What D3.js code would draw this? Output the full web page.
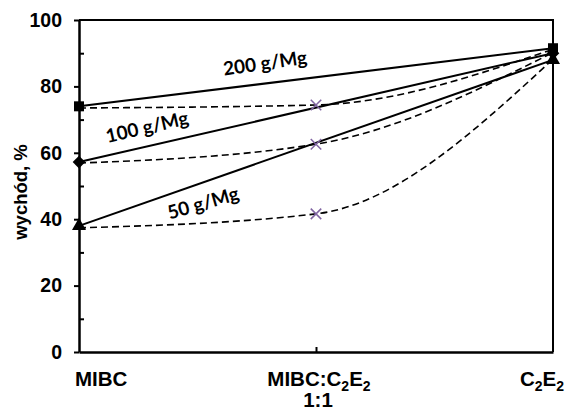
<!DOCTYPE html>
<html>
<head>
<meta charset="utf-8">
<script src="https://cdn.jsdelivr.net/npm/d3@7"></script>
<style>
  body { margin: 0; background: #fff; }
  svg { display: block; font-family: "Liberation Sans", Arial, sans-serif; }
</style>
</head>
<body>
<svg id="chart"></svg>
<script>
const width = 565;
const height = 410;

// data
const categories = ["MIBC", "MIBC:C2E2 1:1", "C2E2"];
const doseLabels = ["200 g/Mg", "100 g/Mg", "50 g/Mg"];
const doseShapes = ["square", "diamond", "triangle"];
// solid lines: MIBC -> C2E2
const solidMIBC = [74, 57.2, 38];
const solidC2E2 = [91.5, 90, 88];
// dashed lines: MIBC, mixture 1:1, C2E2
const dashed200 = [73.5, 74.4, 91.2];
const dashed100 = [56.9, 62.6, 90.2];
const dashed50 = [37.4, 41.6, 88.2];
const yTicks = [0, 20, 40, 60, 80, 100];
const yMinorTicks = [10, 30, 50, 70, 90];

const margin = { top: 20, right: 12, bottom: 58, left: 79 };

const svg = d3.select("#chart")
    .attr("width", width)
    .attr("height", height);

const x = d3.scalePoint()
    .domain(categories)
    .range([margin.left, width - margin.right]);

const y = d3.scaleLinear()
    .domain([0, 100])
    .range([height - margin.bottom, margin.top]);

// frame (top + right)
svg.append("path")
    .attr("d", `M${x.range()[0]},${y(100)}H${x.range()[1]}V${y(0)}`)
    .attr("fill", "none")
    .attr("stroke", "#000")
    .attr("stroke-width", 2);

// y axis, major ticks outside, minor inside
const yAxis = svg.append("g")
    .attr("transform", `translate(${margin.left},0)`)
    .call(d3.axisLeft(y).tickValues(yTicks).tickSize(5).tickSizeOuter(0).tickPadding(12));
yAxis.selectAll("text")
    .attr("font-size", 19.5)
    .attr("font-weight", "bold")
    .attr("font-family", "'Liberation Sans', Arial, sans-serif")
    .attr("fill", "#000");

svg.append("g")
    .attr("transform", `translate(${margin.left},0)`)
    .call(d3.axisLeft(y).tickValues(yMinorTicks).tickSize(-5).tickSizeOuter(0).tickFormat(""))
    .select(".domain").remove();

yAxis.select(".domain").attr("stroke-width", 2.5);
svg.selectAll(".tick line").attr("stroke-width", 2);

// x axis
const xAxis = svg.append("g")
    .attr("transform", `translate(0,${y(0)})`)
    .call(d3.axisBottom(x).tickValues([categories[1]]).tickSize(-5).tickSizeOuter(0).tickFormat(""));
xAxis.select(".domain").attr("stroke-width", 2.5);
xAxis.selectAll(".tick line").attr("stroke-width", 2);

// category labels with subscripts
function addSubText(sel, parts) {
    let shifted = false;
    parts.forEach(p => {
        const t = sel.append("tspan").text(p.t);
        if (p.sub) {
            t.attr("font-size", 14).attr("dy", 5);
            shifted = true;
        } else if (shifted) {
            t.attr("dy", -5);
            shifted = false;
        }
    });
}

const labelY = height - 24;
const catLabels = svg.append("g")
    .attr("font-size", 20.5)
    .attr("font-weight", "bold")
    .attr("fill", "#000");

catLabels.append("text")
    .attr("x", x(categories[0]) - 4)
    .attr("y", labelY)
    .attr("text-anchor", "start")
    .text("MIBC");

const midLabel = catLabels.append("text")
    .attr("x", x(categories[1]) + 3)
    .attr("y", labelY)
    .attr("text-anchor", "middle");
addSubText(midLabel, [{ t: "MIBC:C" }, { t: "2", sub: true }, { t: "E" }, { t: "2", sub: true }]);

catLabels.append("text")
    .attr("x", x(categories[1]) + 2)
    .attr("y", labelY + 21)
    .attr("text-anchor", "middle")
    .text("1:1");

const rightLabel = catLabels.append("text")
    .attr("x", x(categories[2]) + 11)
    .attr("y", labelY)
    .attr("text-anchor", "end");
addSubText(rightLabel, [{ t: "C" }, { t: "2", sub: true }, { t: "E" }, { t: "2", sub: true }]);

// y title
svg.append("text")
    .attr("transform", `translate(27,${(y(0) + y(100)) / 2 + 6}) rotate(-90)`)
    .attr("text-anchor", "middle")
    .attr("font-size", 18.5)
    .attr("font-weight", "bold")
    .text("wychód, %");

// dashed smoothed series
const dashedSeries = [dashed200, dashed100, dashed50];
const dashedLine = d3.line()
    .x((d, i) => x(categories[i]))
    .y(d => y(d))
    .curve(d3.curveMonotoneX);

svg.append("g")
    .selectAll("path")
    .data(dashedSeries)
    .enter().append("path")
    .attr("d", dashedLine)
    .attr("fill", "none")
    .attr("stroke", "#000")
    .attr("stroke-width", 1.6)
    .attr("stroke-dasharray", "7,4");

// solid lines
const solidData = doseLabels.map((label, i) => ({
    label: label,
    shape: doseShapes[i],
    pts: [[categories[0], solidMIBC[i]], [categories[2], solidC2E2[i]]]
}));

const solidLine = d3.line()
    .x(d => x(d[0]))
    .y(d => y(d[1]));

svg.append("g")
    .selectAll("path")
    .data(solidData)
    .enter().append("path")
    .attr("d", d => solidLine(d.pts))
    .attr("fill", "none")
    .attr("stroke", "#000")
    .attr("stroke-width", 2);

// x markers at the mixture
const crossSymbol = {
    draw(ctx, size) {
        const r = Math.sqrt(size) / 2;
        ctx.moveTo(-r, -r); ctx.lineTo(r, r);
        ctx.moveTo(r, -r); ctx.lineTo(-r, r);
    }
};
svg.append("g")
    .selectAll("path")
    .data(dashedSeries)
    .enter().append("path")
    .attr("transform", d => `translate(${x(categories[1])},${y(d[1])})`)
    .attr("d", d3.symbol().type(crossSymbol).size(110))
    .attr("fill", "none")
    .attr("stroke", "#8064A2")
    .attr("stroke-width", 1.5);

// markers at line ends
const symbolFor = {
    square: d3.symbol().type(d3.symbolSquare).size(100),
    diamond: d3.symbol().type(d3.symbolSquare).size(80),
    triangle: d3.symbol().type(d3.symbolTriangle).size(85)
};
solidData.forEach(s => {
    svg.append("g")
        .selectAll("path")
        .data(s.pts)
        .enter().append("path")
        .attr("transform", d => `translate(${x(d[0])},${y(d[1])})` + (s.shape === "diamond" ? " rotate(45)" : ""))
        .attr("d", symbolFor[s.shape])
        .attr("fill", "#000");
});

// dose labels along the lines
const doseLabelPos = [
    { cx: 265, cy: 63, rot: -8 },
    { cx: 147, cy: 127, rot: -13 },
    { cx: 203, cy: 203, rot: -16 }
];
svg.append("g")
    .selectAll("text")
    .data(doseLabels)
    .enter().append("text")
    .attr("transform", (d, i) => `translate(${doseLabelPos[i].cx},${doseLabelPos[i].cy}) rotate(${doseLabelPos[i].rot})`)
    .attr("text-anchor", "middle")
    .attr("dy", "0.35em")
    .attr("font-family", "Lato, 'Open Sans', sans-serif")
    .attr("font-weight", "bold")
    .attr("font-size", 19)
    .text(d => d);
</script>
</body>
</html>
